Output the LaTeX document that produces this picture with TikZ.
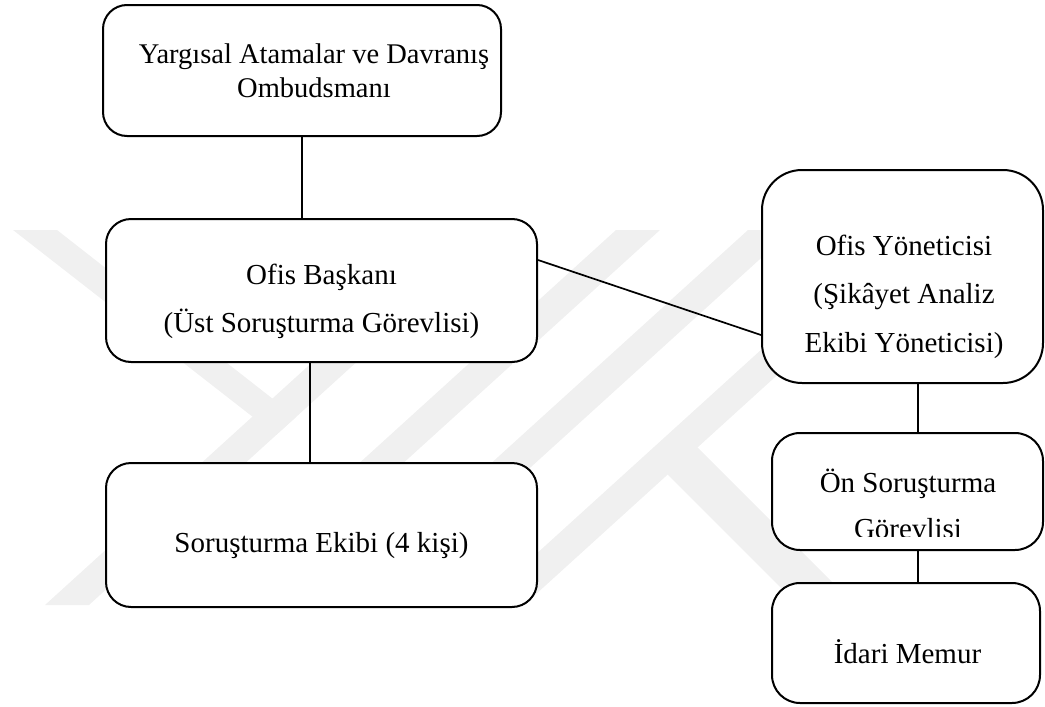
\documentclass[tikz,border=0pt]{standalone}
\usepackage{fontspec}
\setmainfont{Liberation Serif}
\usetikzlibrary{positioning}
\definecolor{markgray}{RGB}{240,240,240}
\definecolor{boxline}{RGB}{0,0,0}

\begin{document}
\begin{tikzpicture}[x=1pt,y=-1pt,
    orgbox/.style={draw=boxline,fill=white,line width=2pt,inner sep=0pt},
    orgtext/.style={align=center,inner sep=0pt,anchor=base,font=\fontsize{29}{48}\selectfont},
    orgline/.style={draw=boxline,line width=1.7pt}]
    \useasboundingbox (0,0) rectangle (1045,707);
    \fill[markgray] (458,230) -- (502,230) -- (89,605) -- (45,605) -- cycle;
    \fill[markgray] (616,230) -- (660,230) -- (247,605) -- (203,605) -- cycle;
    \fill[markgray] (748,230) -- (792,230) -- (379,605) -- (335,605) -- cycle;
    \fill[markgray] (893,230) -- (937,230) -- (524,605) -- (480,605) -- cycle;
    \fill[markgray] (13,230) -- (57,230) -- (296,417) -- (276,435) -- cycle;
    \fill[markgray] (687,437) -- (855,605) -- (798,605) -- (657,464) -- cycle;
    \node[orgbox,minimum width=398pt,minimum height=131pt,rounded corners=24pt] (ombudsman) at (302,70.5) {};
    \node[orgbox,minimum width=431pt,minimum height=143pt,rounded corners=25pt] (baskan) at (321.5,290.5) {};
    \node[orgbox,minimum width=431pt,minimum height=144pt,rounded corners=25pt] (ekip) at (321.5,535) {};
    \node[orgbox,minimum width=281pt,minimum height=213pt,rounded corners=40pt] (yonetici) at (902.5,276.5) {};
    \node[orgbox,minimum width=271pt,minimum height=117pt,rounded corners=28pt] (onsor) at (907.5,491.5) {};
    \node[orgbox,minimum width=268pt,minimum height=120pt,rounded corners=28pt] (idari) at (906,643) {};
    \draw[orgline] (ombudsman.south -| 302,0) -- (baskan.north -| 302,0);
    \draw[orgline] (baskan.south -| 310,0) -- (ekip.north -| 310,0);
    \draw[orgline] (baskan.east |- 0,260) -- (yonetici.west |- 0,335);
    \draw[orgline] (yonetici.south -| 918,0) -- (onsor.north -| 918,0);
    \draw[orgline] (onsor.south -| 918,0) -- (idari.north -| 918,0);
    \node[orgtext,font=\fontsize{28.5}{34}\selectfont] (ombudsman-t) at (314,97) {Yargısal Atamalar ve Davranış\\Ombudsmanı};
    \node[orgtext] (baskan-t) at (321.5,332) {Ofis Başkanı\\(Üst Soruşturma Görevlisi)};
    \node[orgtext] (ekip-t) at (321.5,552) {Soruşturma Ekibi (4 kişi)};
    \node[orgtext,font=\fontsize{29}{48.5}\selectfont] (yonetici-t) at (904,352) {Ofis Yöneticisi\\(Şikâyet Analiz\\Ekibi Yöneticisi)};
    \begin{scope}
        \clip (772,433) rectangle (1043,536);
        \node[orgtext,font=\fontsize{29}{46}\selectfont] (onsor-t) at (908,538) {Ön Soruşturma\\Görevlisi};
    \end{scope}
    \node[orgtext] (idari-t) at (907.5,663) {İdari Memur};
\end{tikzpicture}
\end{document}
